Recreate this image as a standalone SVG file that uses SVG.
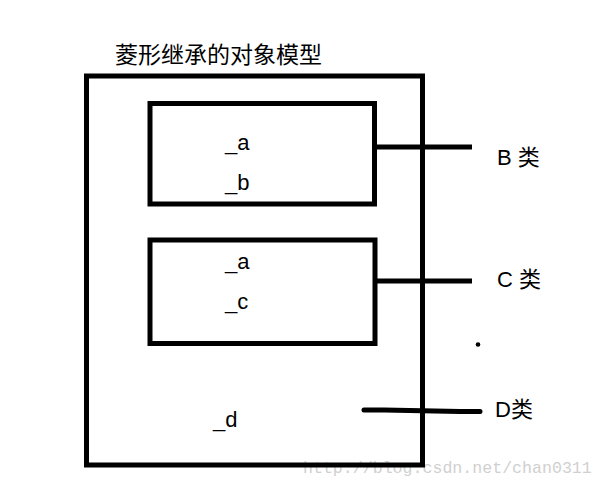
<svg xmlns="http://www.w3.org/2000/svg" width="604" height="484" viewBox="0 0 604 484">
<style>
.box{fill:none;stroke:#000;stroke-width:5}
.ln{stroke:#000;stroke-width:5;fill:none}
.t{font-family:"Liberation Sans","Noto Sans CJK SC",sans-serif;font-size:22px;fill:#000}
.cjk{font-family:"Noto Sans CJK SC","Liberation Sans",sans-serif;fill:#000}
.wm{font-family:"Liberation Mono",monospace;font-size:16.6px;fill:#d0d0d0}
</style>
<rect width="604" height="484" fill="#fff"/>
<text class="wm" x="303" y="473">http://blog.csdn.net/chan0311</text>
<text class="cjk" x="115" y="63" font-size="22.5" textLength="207" lengthAdjust="spacingAndGlyphs">菱形继承的对象模型</text>
<g id="D">
<rect class="box" x="86.5" y="76" width="336" height="389"/>
<text class="t" x="213" y="427">_d</text>
</g>
<g id="B">
<rect class="box" x="150" y="103.5" width="224.5" height="100.5"/>
<text class="t" x="225" y="150">_a</text>
<text class="t" x="225" y="190">_b</text>
</g>
<g id="C">
<rect class="box" x="150" y="240" width="225" height="103.5"/>
<text class="t" x="225" y="269">_a</text>
<text class="t" x="225" y="309">_c</text>
</g>
<g id="connectors">
<line class="ln" x1="376" y1="147" x2="472" y2="147"/>
<line class="ln" x1="377" y1="281" x2="472" y2="281"/>
<path class="ln" d="M364 410 L384 410 L460 411.5 L480 411.5" stroke-linecap="round"/>
<circle cx="478" cy="344.5" r="2.3" fill="#000"/>
</g>
<g id="labels">
<text class="t" x="497" y="165">B <tspan class="cjk">类</tspan></text>
<text class="t" x="497" y="287">C <tspan class="cjk">类</tspan></text>
<text class="t" x="495" y="417">D<tspan class="cjk">类</tspan></text>
</g>
</svg>
